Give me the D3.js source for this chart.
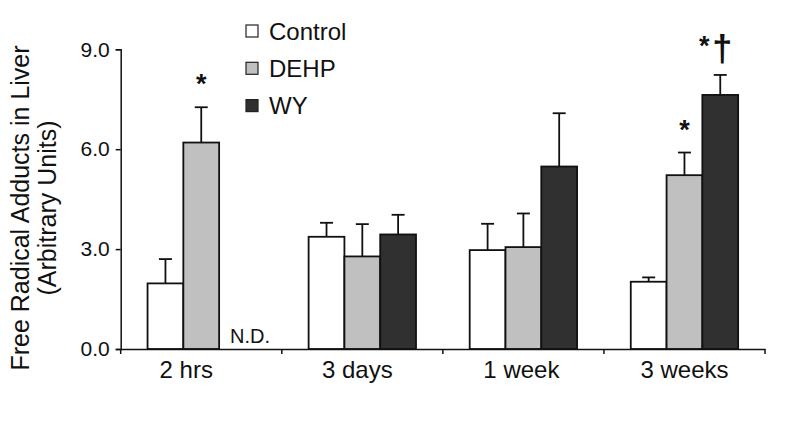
<!DOCTYPE html>
<html>
<head>
<meta charset="utf-8">
<script src="https://cdn.jsdelivr.net/npm/d3@7"></script>
<style>
  html, body { margin: 0; padding: 0; background: #fff; }
  svg { display: block; font-family: "Liberation Sans", Arial, Helvetica, sans-serif; }
</style>
</head>
<body>
<svg id="chart" width="800" height="421"></svg>
<script>
// ---- data ----
const categories = ["2 hrs", "3 days", "1 week", "3 weeks"];
const series = ["Control", "DEHP", "WY"];
const controlMean = [1.97, 3.37, 2.97, 2.02];
const controlErr  = [0.73, 0.42, 0.79, 0.13];
const dehpMean    = [6.20, 2.78, 3.06, 5.22];
const dehpErr     = [1.06, 0.97, 1.01, 0.68];
const wyMean      = [null, 3.44, 5.48, 7.63];
const wyErr       = [null, 0.59, 1.60, 0.60];
const yTickValues = [0, 3, 6, 9];
const yTickLabels = ["0.0", "3.0", "6.0", "9.0"];
const yTitle1 = "Free Radical Adducts in Liver";
const yTitle2 = "(Arbitrary Units)";
const notDetectedLabel = "N.D.";
const marks = [
  { category: "2 hrs", series: "DEHP", label: "*" },
  { category: "3 weeks", series: "DEHP", label: "*" },
  { category: "3 weeks", series: "WY", label: "*†" }
];

// ---- styles ----
const colors = { Control: "#ffffff", DEHP: "#c0c0c0", WY: "#303030" };

const svg = d3.select("#chart");
const mLeft = 120.7, mRight = 765, mTop = 49.3, mBottom = 349;

const x0 = d3.scaleBand().domain(categories).range([mLeft, mRight]).paddingInner(0).paddingOuter(0);
const x1 = d3.scaleBand().domain(series).range([0, x0.bandwidth()]).paddingInner(0).paddingOuter(0.75);
const y = d3.scaleLinear().domain([0, 9]).range([mBottom, mTop]);

const means = { Control: controlMean, DEHP: dehpMean, WY: wyMean };
const errs = { Control: controlErr, DEHP: dehpErr, WY: wyErr };

const rows = [];
categories.forEach((c, i) => {
  series.forEach(s => {
    if (means[s][i] != null) rows.push({ category: c, series: s, value: means[s][i], err: errs[s][i] });
  });
});

// error bars
const eb = svg.append("g");
rows.forEach(d => {
  const cx = x0(d.category) + x1(d.series) + x1.bandwidth() / 2;
  eb.append("line").attr("x1", cx).attr("x2", cx)
    .attr("y1", y(d.value)).attr("y2", y(d.value + d.err))
    .attr("stroke", "#111").attr("stroke-width", 1.8);
  eb.append("line").attr("x1", cx - 6.5).attr("x2", cx + 6.5)
    .attr("y1", y(d.value + d.err)).attr("y2", y(d.value + d.err))
    .attr("stroke", "#111").attr("stroke-width", 1.8);
});

// bars
svg.append("g").selectAll("rect").data(rows).join("rect")
  .attr("x", d => x0(d.category) + x1(d.series))
  .attr("y", d => y(d.value))
  .attr("width", x1.bandwidth())
  .attr("height", d => y(0) - y(d.value))
  .attr("fill", d => colors[d.series])
  .attr("stroke", "#111")
  .attr("stroke-width", 1.8);

// y axis
const yAxis = d3.axisLeft(y).tickValues(yTickValues)
  .tickFormat((d, i) => yTickLabels[i]).tickSizeOuter(0).tickSize(5).tickPadding(6);
const gy = svg.append("g").attr("transform", `translate(${mLeft},0)`).call(yAxis);
gy.select(".domain").attr("stroke", "#111").attr("stroke-width", 1.5);
gy.selectAll(".tick line").attr("stroke", "#111").attr("stroke-width", 1.5);
gy.selectAll(".tick text").attr("font-size", 21).attr("fill", "#111")
  .attr("font-family", "Liberation Sans, Arial, sans-serif");

// x axis
const xAxis = d3.axisBottom(x0).tickSize(0).tickPadding(12);
const gx = svg.append("g").attr("transform", `translate(0,${mBottom})`).call(xAxis);
gx.select(".domain").attr("stroke", "#111").attr("stroke-width", 1.5);
gx.selectAll(".tick text").attr("font-size", 24).attr("fill", "#111")
  .attr("font-family", "Liberation Sans, Arial, sans-serif")
  .attr("dx", (d, i) => [-15, -5, -2, 0][i]);
// category separators
const sepX = categories.map(c => x0(c) + x0.bandwidth()).concat([mLeft]);
svg.append("g").selectAll("line").data(sepX).join("line")
  .attr("x1", d => d).attr("x2", d => d)
  .attr("y1", mBottom).attr("y2", mBottom + 5)
  .attr("stroke", "#111").attr("stroke-width", 1.5);

// N.D.
svg.append("text")
  .attr("x", x0("2 hrs") + x1("WY") + x1.bandwidth() / 2 + 13)
  .attr("y", mBottom - 6)
  .attr("text-anchor", "middle").attr("font-size", 20).attr("fill", "#111")
  .text(notDetectedLabel);

// significance marks
marks.forEach(m => {
  const i = categories.indexOf(m.category);
  const v = means[m.series][i] + errs[m.series][i];
  const cx = x0(m.category) + x1(m.series) + x1.bandwidth() / 2;
  const ty = y(v);
  if (m.label === "*") {
    svg.append("text").attr("x", cx).attr("y", ty - 14)
      .attr("text-anchor", "middle").attr("font-size", 27).attr("font-weight", "bold")
      .attr("fill", "#111").text("*");
  } else {
    svg.append("text").attr("x", cx - 16).attr("y", ty - 20)
      .attr("text-anchor", "middle").attr("font-size", 27).attr("font-weight", "bold")
      .attr("fill", "#111").text("*");
    svg.append("text").attr("x", cx + 2).attr("y", ty - 14)
      .attr("text-anchor", "middle").attr("font-size", 36).attr("font-weight", "bold")
      .attr("fill", "#111").text("†");
  }
});

// y title
const midY = 208;
svg.append("text")
  .attr("transform", `translate(28.5,${midY}) rotate(-90)`)
  .attr("text-anchor", "middle").attr("font-size", 25).attr("fill", "#111")
  .text(yTitle1);
svg.append("text")
  .attr("transform", `translate(56,${midY}) rotate(-90)`)
  .attr("text-anchor", "middle").attr("font-size", 25).attr("fill", "#111")
  .text(yTitle2);

// legend
const lg = svg.append("g");
series.forEach((s, i) => {
  const cy = 31 + i * 37.3;
  lg.append("rect").attr("x", 246).attr("y", cy - 6).attr("width", 12).attr("height", 12)
    .attr("fill", colors[s]).attr("stroke", "#222").attr("stroke-width", 1.2);
  lg.append("text").attr("x", 269).attr("y", cy + 8.5)
    .attr("font-size", 24).attr("fill", "#111").text(s);
});
</script>
</body>
</html>
